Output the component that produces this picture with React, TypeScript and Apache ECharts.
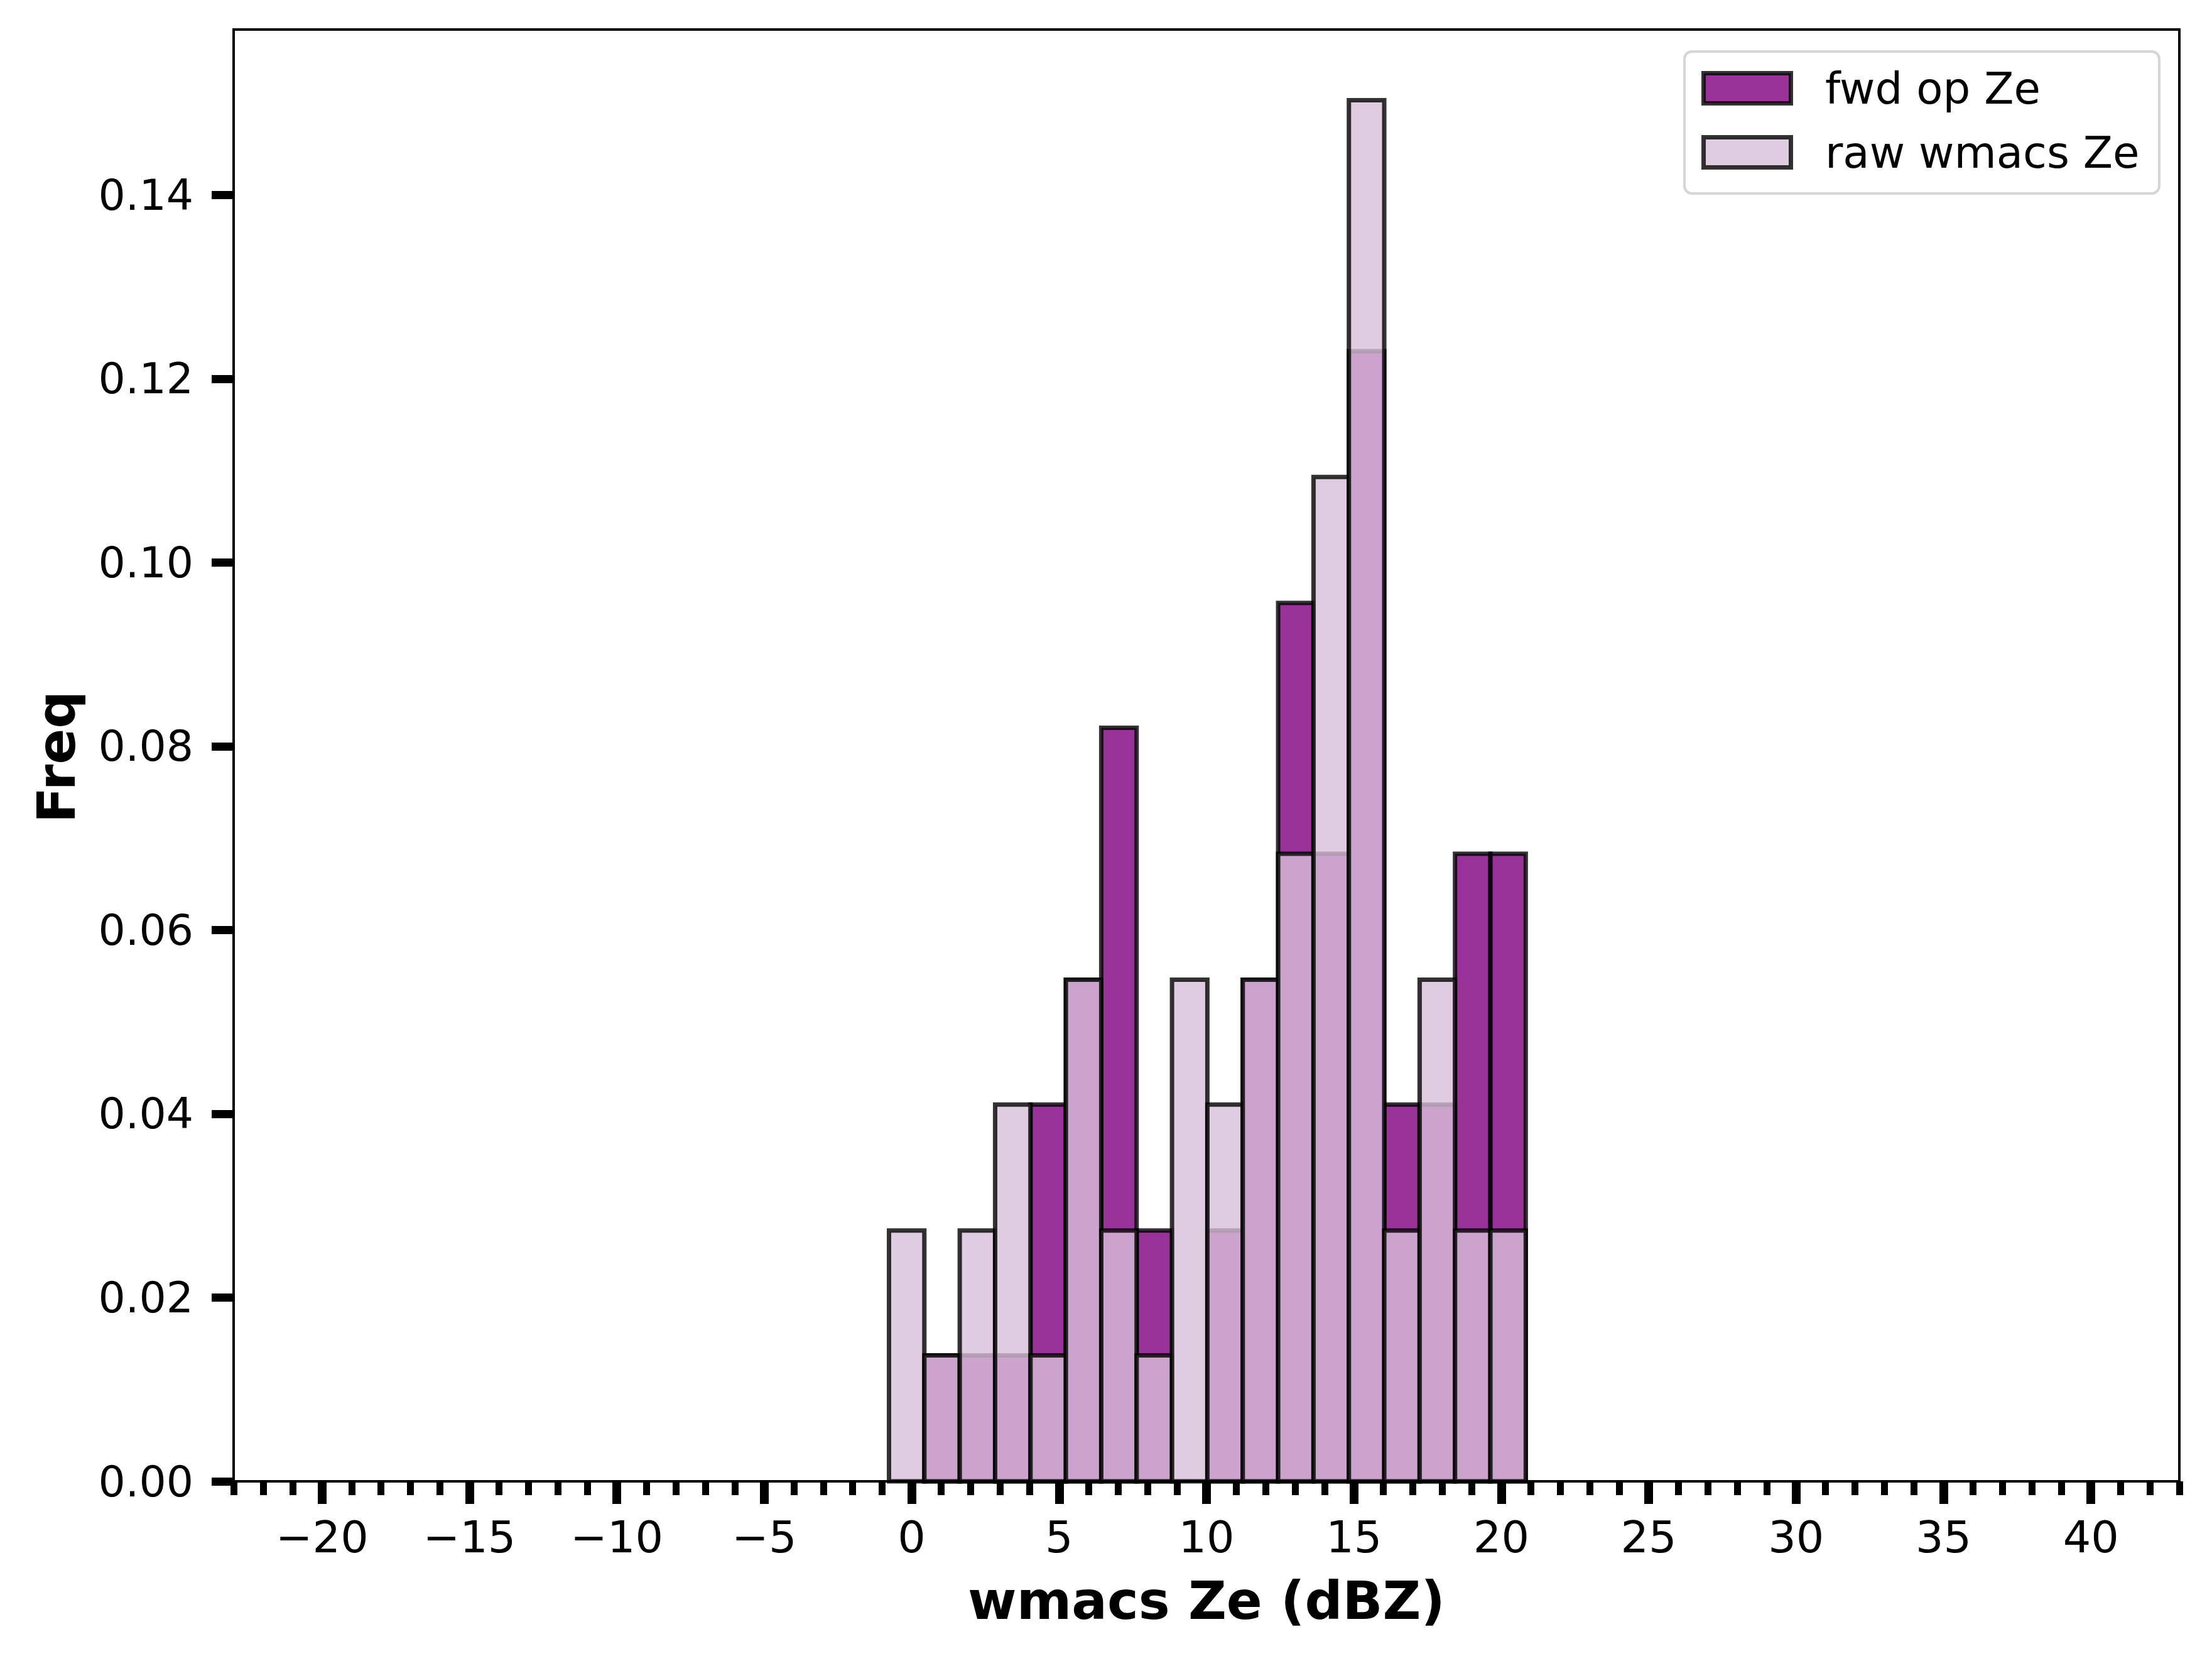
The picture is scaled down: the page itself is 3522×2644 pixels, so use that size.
import React, { useEffect, useRef } from "react";
import * as echarts from "echarts";

// Histogram bin edges (dBZ), shared by both series
const binEdges = [
  -0.77, 0.43, 1.63, 2.83, 4.03, 5.23, 6.43, 7.63, 8.83, 10.03, 11.23, 12.43,
  13.63, 14.83, 16.03, 17.23, 18.43, 19.63, 20.83,
];
// Density per bin
const fwdFreq = [
  0, 0.0137, 0.0137, 0.0137, 0.041, 0.0546, 0.082, 0.0273, 0, 0.0273, 0.0546,
  0.0956, 0.0683, 0.123, 0.041, 0.041, 0.0683, 0.0683,
];
const rawFreq = [
  0.0273, 0.0137, 0.0273, 0.041, 0.0137, 0.0546, 0.0273, 0.0137, 0.0546, 0.041,
  0.0546, 0.0683, 0.1093, 0.1503, 0.0273, 0.0546, 0.0273, 0.0273,
];
const xMajorTicks = [-20, -15, -10, -5, 0, 5, 10, 15, 20, 25, 30, 35, 40];
const xMinorTicks = [
  -23, -22, -21, -20, -19, -18, -17, -16, -15, -14, -13, -12, -11, -10, -9, -8,
  -7, -6, -5, -4, -3, -2, -1, 0, 1, 2, 3, 4, 5, 6, 7, 8, 9, 10, 11, 12, 13, 14,
  15, 16, 17, 18, 19, 20, 21, 22, 23, 24, 25, 26, 27, 28, 29, 30, 31, 32, 33,
  34, 35, 36, 37, 38, 39, 40, 41, 42, 43,
];
const yTicks = [0, 0.02, 0.04, 0.06, 0.08, 0.1, 0.12, 0.14];
const seriesNames = ["fwd op Ze", "raw wmacs Ze"];

const FONT = "DejaVu Sans";
const FWD_FILL = "rgba(128,0,128,0.8)";
const RAW_FILL = "rgba(216,191,216,0.8)";
const EDGE = "rgba(0,0,0,0.8)";

const GRID = { left: 372, top: 47, width: 3098, height: 2311 };

function histData(freq: number[]) {
  return freq.map((v, i) => [binEdges[i], binEdges[i + 1], v]);
}

function makeRender(fill: string) {
  return (params: any, api: any) => {
    const x0 = api.value(0);
    const x1 = api.value(1);
    const y = api.value(2);
    if (!y) return null;
    const p0 = api.coord([x0, y]);
    const p1 = api.coord([x1, 0]);
    return {
      type: "rect",
      shape: { x: p0[0], y: p0[1], width: p1[0] - p0[0], height: p1[1] - p0[1] },
      style: { fill, stroke: EDGE, lineWidth: 7 },
    };
  };
}

const fmtX = (v: number) => (v < 0 ? "\u2212" + Math.abs(v) : String(v));

export default function App() {
  const ref = useRef<HTMLDivElement>(null);
  useEffect(() => {
    document.body.style.margin = "0";
    const chart = echarts.init(ref.current!, undefined, { renderer: "svg" });
    const legX = 2682;
    const legY = 82;
    chart.setOption({
      animation: false,
      backgroundColor: "#ffffff",
      grid: {
        ...GRID,
        show: true,
        borderColor: "#000",
        borderWidth: 4,
        backgroundColor: "transparent",
        z: 10,
      },
      xAxis: [
        {
          type: "value",
          min: -23,
          max: 43,
          position: "bottom",
          splitLine: { show: false },
          axisLine: { show: true, onZero: false, lineStyle: { color: "#000", width: 4 } },
          axisTick: {
            show: true,
            customValues: xMajorTicks,
            length: 36,
            lineStyle: { color: "#000", width: 14 },
          },
          axisLabel: {
            customValues: xMajorTicks,
            formatter: fmtX,
            fontFamily: FONT,
            fontSize: 70,
            color: "#000",
            margin: 54,
          },
        },
        {
          type: "value",
          min: -23,
          max: 43,
          position: "bottom",
          splitLine: { show: false },
          axisLine: { show: false, onZero: false },
          axisTick: {
            show: true,
            customValues: xMinorTicks,
            length: 22,
            lineStyle: { color: "#000", width: 11 },
          },
          axisLabel: { show: false },
        },
      ],
      yAxis: {
        type: "value",
        min: 0,
        max: 0.158,
        position: "left",
        splitLine: { show: false },
        axisLine: { show: true, onZero: false, lineStyle: { color: "#000", width: 4 } },
        axisTick: {
          show: true,
          customValues: yTicks,
          length: 35,
          lineStyle: { color: "#000", width: 13 },
        },
        axisLabel: {
          customValues: yTicks,
          formatter: (v: number) => v.toFixed(2),
          fontFamily: FONT,
          fontSize: 68,
          color: "#000",
          margin: 64,
        },
      },
      series: [
        {
          name: seriesNames[0],
          type: "custom",
          xAxisIndex: 0,
          yAxisIndex: 0,
          renderItem: makeRender(FWD_FILL),
          encode: { x: [0, 1], y: 2 },
          data: histData(fwdFreq),
          z: 2,
        },
        {
          name: seriesNames[1],
          type: "custom",
          xAxisIndex: 0,
          yAxisIndex: 0,
          renderItem: makeRender(RAW_FILL),
          encode: { x: [0, 1], y: 2 },
          data: histData(rawFreq),
          z: 3,
        },
      ],
      graphic: [
        {
          type: "text",
          x: 1921,
          y: 2548,
          style: {
            text: "wmacs Ze (dBZ)",
            font: `bold 84px "${FONT}"`,
            fill: "#000",
            align: "center",
            verticalAlign: "middle",
          },
        },
        {
          type: "text",
          x: 90,
          y: 1205,
          rotation: Math.PI / 2,
          style: {
            text: "Freq",
            font: `bold 84px "${FONT}"`,
            fill: "#000",
            align: "center",
            verticalAlign: "middle",
          },
        },
        {
          type: "rect",
          z: 100,
          shape: { x: legX, y: legY, width: 756, height: 226, r: 12 },
          style: { fill: "rgba(255,255,255,0.8)", stroke: "#d6d6d6", lineWidth: 4 },
        },
        {
          type: "rect",
          z: 101,
          shape: { x: 2712.5, y: 116.5, width: 139, height: 48 },
          style: { fill: FWD_FILL, stroke: EDGE, lineWidth: 7 },
        },
        {
          type: "rect",
          z: 101,
          shape: { x: 2712.5, y: 218.5, width: 139, height: 48 },
          style: { fill: RAW_FILL, stroke: EDGE, lineWidth: 7 },
        },
        {
          type: "text",
          z: 101,
          x: 2906,
          y: 141,
          style: {
            text: seriesNames[0],
            font: `69px "${FONT}"`,
            fill: "#000",
            align: "left",
            verticalAlign: "middle",
          },
        },
        {
          type: "text",
          z: 101,
          x: 2906,
          y: 243,
          style: {
            text: seriesNames[1],
            font: `69px "${FONT}"`,
            fill: "#000",
            align: "left",
            verticalAlign: "middle",
          },
        },
      ],
    });
    return () => chart.dispose();
  }, []);
  return <div ref={ref} style={{ width: 3522, height: 2644 }} />;
}
